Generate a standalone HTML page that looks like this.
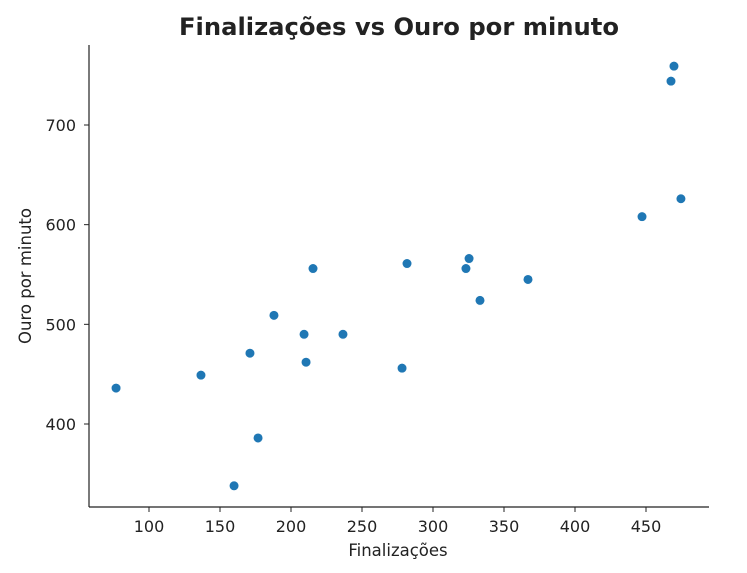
<!DOCTYPE html>
<html><head><meta charset="utf-8"><style>
html,body{margin:0;padding:0;background:#fff;}
svg text{font-family:"DejaVu Sans","Liberation Sans",sans-serif;fill:#222;}
</style></head><body>
<svg id="chart" width="747" height="568" xmlns="http://www.w3.org/2000/svg">
<text x="399" y="35" text-anchor="middle" font-size="24" font-weight="bold" textLength="440" lengthAdjust="spacingAndGlyphs" fill="#000">Finalizações vs Ouro por minuto</text>
<line x1="89" y1="45" x2="89" y2="507" stroke="#222" stroke-width="1.2"/>
<line x1="89" y1="507" x2="709" y2="507" stroke="#222" stroke-width="1.2"/>
<text x="398" y="556" text-anchor="middle" font-size="16.5">Finalizações</text>
<text transform="translate(31,276) rotate(-90)" text-anchor="middle" font-size="16.5">Ouro por minuto</text>
<g id="ticks"></g><g id="points"></g>
</svg>
<script>
const finalizacoes=[76.8,136.6,171.1,176.8,159.9,188,209.2,210.6,215.5,236.6,278.2,281.7,323.2,325.4,333.1,366.9,447.2,467.6,469.7,474.6];
const ouro=[436,449,471,386,338,509,490,462,556,490,456,561,556,566,524,545,608,744,759,626];
const xTicks=[100,150,200,250,300,350,400,450];
const yTicks=[400,500,600,700];
const NS="http://www.w3.org/2000/svg";
function xs(v){return 149+(v-100)*1.42;}
function ys(v){return 424-(v-400)*0.9967;}
const tg=document.getElementById('ticks');
xTicks.forEach(t=>{
 const l=document.createElementNS(NS,'line');
 l.setAttribute('x1',xs(t));l.setAttribute('x2',xs(t));l.setAttribute('y1',507);l.setAttribute('y2',512);l.setAttribute('stroke','#222');
 
 
 tg.appendChild(l);
 const tx=document.createElementNS(NS,'text');
 tx.setAttribute('x',xs(t));tx.setAttribute('y',532);tx.setAttribute('text-anchor','middle');tx.setAttribute('font-size','16');tx.textContent=t;
 
 
 tg.appendChild(tx);
});
yTicks.forEach(t=>{
 const l=document.createElementNS(NS,'line');
 l.setAttribute('x1',84);l.setAttribute('x2',89);l.setAttribute('y1',ys(t));l.setAttribute('y2',ys(t));l.setAttribute('stroke','#222');
 
 
 tg.appendChild(l);
 const tx=document.createElementNS(NS,'text');
 tx.setAttribute('x',76);tx.setAttribute('y',ys(t)+6);tx.setAttribute('text-anchor','end');tx.setAttribute('font-size','16');tx.textContent=t;
 
 
 tg.appendChild(tx);
});
const pg=document.getElementById('points');
finalizacoes.forEach((v,i)=>{
 const c=document.createElementNS(NS,'circle');
 c.setAttribute('cx',xs(v));c.setAttribute('cy',ys(ouro[i]));c.setAttribute('r',4.8);
 c.setAttribute('fill','#1f77b4');c.setAttribute('stroke','#fff');c.setAttribute('stroke-width','0.6');
 
 
 pg.appendChild(c);
});
</script>
</body></html>
